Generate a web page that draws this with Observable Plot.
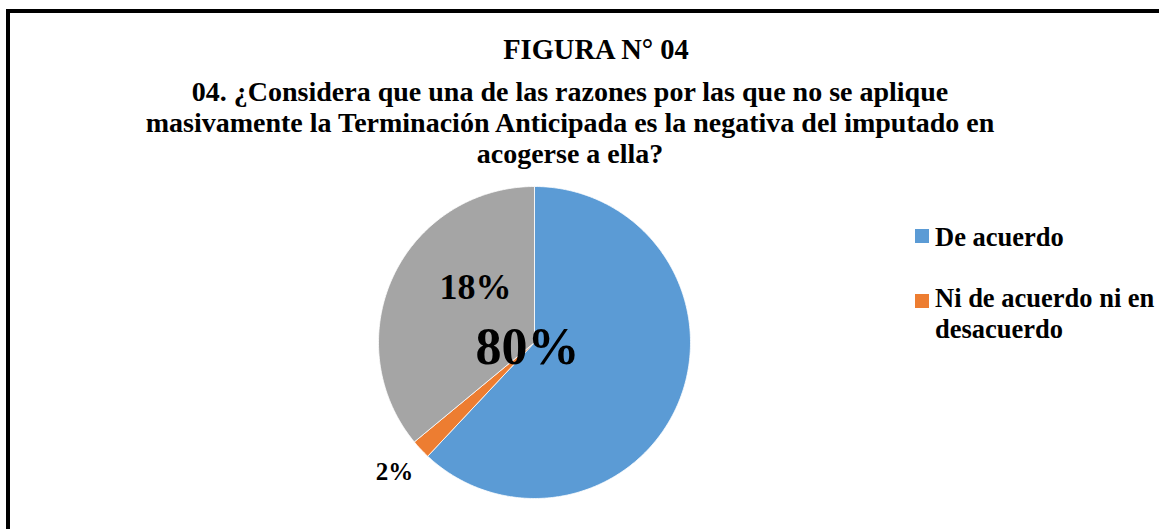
<!DOCTYPE html>
<html>
<head>
<meta charset="utf-8">
<script src="https://cdn.jsdelivr.net/npm/d3@7"></script>
<script src="https://cdn.jsdelivr.net/npm/@observablehq/plot@0.6"></script>
<style>
  html, body { margin: 0; padding: 0; background: #fff; }
  #wrap { position: relative; width: 1159px; height: 529px; overflow: hidden; background: #fff; color: #000; }
  .serif { font-family: "Liberation Serif", "DejaVu Serif", serif !important; font-weight: 700; }
  #frame { position: absolute; left: 6px; top: 9px; width: 1300px; height: 700px;
           border-left: 4px solid #000; border-top: 4px solid #000; }
  #title { position: absolute; left: 0; width: 1192px; top: 36px; text-align: center;
           font-size: 28.5px; line-height: 28px; white-space: nowrap; }
  #subtitle { position: absolute; left: 0; width: 1140px; top: 76px; text-align: center;
              font-size: 28px; line-height: 31px; white-space: nowrap; }
  #pie { position: absolute; left: 363.5px; top: 172px; }
  .leg { position: absolute; left: 935px; font-size: 26.5px; line-height: 31px; white-space: nowrap; }
  .sw { position: absolute; left: 915px; width: 14px; height: 14px; }
</style>
</head>
<body>
<div id="wrap">
  <div id="frame"></div>
  <div id="title" class="serif"></div>
  <div id="subtitle" class="serif"></div>
  <div id="pie"></div>
  <div id="legend"></div>
</div>
<script>
// ---- data ----
const titleText = "FIGURA N° 04";
const subtitleLines = [
  "04. ¿Considera que una de las razones por las que no se aplique",
  "masivamente la Terminación Anticipada es la negativa del imputado en",
  "acogerse a ella?"
];
const categories = ["De acuerdo", "Ni de acuerdo ni en desacuerdo", "En desacuerdo"];
const sliceShares = [62, 2, 36];          // slice sizes as drawn in the picture
const labelTexts = ["80%", "2%", "18%"];   // data labels as printed
const colors = ["#5B9BD5", "#ED7D31", "#A5A5A5"];
const legendShown = ["De acuerdo", "Ni de acuerdo ni en\ndesacuerdo"];

// ---- titles ----
document.getElementById("title").textContent = titleText;
const sub = document.getElementById("subtitle");
subtitleLines.forEach(s => {
  const d = document.createElement("div");
  d.className = "serif";
  d.textContent = s;
  sub.appendChild(d);
});

// ---- pie geometry from data ----
const arcs = d3.pie().sort(null).value(d => d.v)(categories.map((c, i) => ({c, v: sliceShares[i]})));
const pts = [];
arcs.forEach(a => {
  const n = Math.max(2, Math.ceil((a.endAngle - a.startAngle) / 0.01));
  pts.push({key: a.data.c, x: 0, y: 0});
  for (let k = 0; k <= n; k++) {
    const t = a.startAngle + (a.endAngle - a.startAngle) * k / n;
    pts.push({key: a.data.c, x: Math.sin(t), y: Math.cos(t)});
  }
  pts.push({key: a.data.c, x: 0, y: 0});
});

const W = 340, M = 14;
const center = [{x: 0, y: 0}];
const labelMark = (i, dx, dy, size) => Plot.text(center, {
  x: "x", y: "y", text: () => labelTexts[i], dx, dy,
  fontSize: size, fontWeight: "bold", fontFamily: "Liberation Serif", fill: "#000"
});

const chart = Plot.plot({
  width: W, height: W,
  margin: M,
  x: {domain: [-1, 1], axis: null},
  y: {domain: [-1, 1], axis: null},
  color: {domain: categories, range: colors},
  style: {background: "transparent", overflow: "visible"},
  marks: [
    Plot.line(pts, {x: "x", y: "y", z: "key", fill: "key", stroke: "white", strokeWidth: 0.8, curve: "linear"}),
    labelMark(2, -59, -55, 36),
    labelMark(0, -7, 5, 52),
    labelMark(1, -140, 129, 25)
  ]
});
document.getElementById("pie").appendChild(chart);

// ---- legend ----
const leg = document.getElementById("legend");
const legTextTops = [222, 283];
const legSwTops = [229, 294];
legendShown.forEach((name, i) => {
  const sw = document.createElement("div");
  sw.className = "sw";
  sw.style.top = legSwTops[i] + "px";
  sw.style.background = colors[i];
  const tx = document.createElement("div");
  tx.className = "leg serif";
  tx.style.top = legTextTops[i] + "px";
  name.split("\n").forEach((ln, j) => {
    if (j) tx.appendChild(document.createElement("br"));
    tx.appendChild(document.createTextNode(ln));
  });
  leg.appendChild(sw);
  leg.appendChild(tx);
});
</script>
</body>
</html>
